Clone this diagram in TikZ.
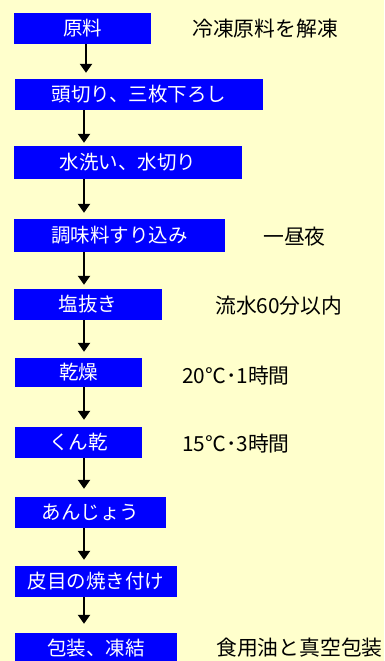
\documentclass[tikz,border=0pt]{standalone}
\usepackage{fontspec}
\newfontfamily\jpfont{Noto Sans CJK JP}
\usetikzlibrary{arrows.meta,calc}
\definecolor{bgyellow}{HTML}{FFFFCC}
\definecolor{boxblue}{HTML}{0000FF}
\begin{document}
\begin{tikzpicture}[x=1pt,y=-1pt,
  procbox/.style={fill=boxblue,draw=none,inner sep=0pt,text=white,
    font=\jpfont\fontsize{19.5}{20}\selectfont,anchor=center},
  sidenote/.style={inner sep=0pt,anchor=west,text=black,
    font=\jpfont\fontsize{20.8}{22}\selectfont},
  flowarrow/.style={-{Triangle[length=9pt,width=12pt]},line width=2.6pt,shorten >=6pt}]
\fill[bgyellow] (0,0) rectangle (384,661);
\useasboundingbox (0,0) rectangle (384,661);
% boxes
\node[procbox,minimum width=137pt,minimum height=31pt] (b1) at (82.5,28.5) {原料};
\node[procbox,minimum width=248pt,minimum height=31pt] (b2) at (139,94.5) {頭切り、三枚下ろし};
\node[procbox,minimum width=228pt,minimum height=33pt] (b3) at (128,162.5) {水洗い、水切り};
\node[procbox,minimum width=211pt,minimum height=33pt] (b4) at (119.5,235.5) {調味料すり込み};
\node[procbox,minimum width=148pt,minimum height=31pt] (b5) at (88,304.5) {塩抜き};
\node[procbox,minimum width=127pt,minimum height=29pt] (b6) at (78.5,372.5) {乾燥};
\node[procbox,minimum width=127pt,minimum height=31pt] (b7) at (78.5,442.5) {くん乾};
\node[procbox,minimum width=151pt,minimum height=31pt] (b8) at (90.5,512.5) {あんじょう};
\node[procbox,minimum width=162pt,minimum height=31pt] (b9) at (96,581.5) {皮目の焼き付け};
\node[procbox,minimum width=162pt,minimum height=31pt] (b10) at (96,648.5) {包装、凍結};
% side notes
\node[sidenote] (n1) at (192,29) {冷凍原料を解凍};
\node[sidenote] (n4) at (263,237) {一昼夜};
\node[sidenote] (n5) at (215,306) {流水60分以内};
\node[sidenote] (n6) at (182,376) {20℃･1時間};
\node[sidenote] (n7) at (182,444) {15℃･3時間};
\node[sidenote] (n10) at (216,648) {食用油と真空包装};
% arrows
\coordinate (ax1) at (86,0);
\coordinate (ax) at (84,0);
\draw[flowarrow] (b1.south -| ax1) -- (b2.north -| ax1);
\draw[flowarrow,shorten >=3pt] (b2.south -| ax) -- (b3.north -| ax);
\draw[flowarrow] (b3.south -| ax) -- (b4.north -| ax);
\draw[flowarrow,shorten >=4pt] (b4.south -| ax) -- (b5.north -| ax);
\draw[flowarrow] (b5.south -| ax) -- (b6.north -| ax);
\draw[flowarrow,shorten >=7pt] (b6.south -| ax) -- (b7.north -| ax);
\draw[flowarrow,shorten >=8pt] (b7.south -| ax) -- (b8.north -| ax);
\draw[flowarrow] (b8.south -| ax) -- (b9.north -| ax);
\draw[flowarrow,shorten >=9pt] (b9.south -| ax) -- (b10.north -| ax);
\end{tikzpicture}
\end{document}
